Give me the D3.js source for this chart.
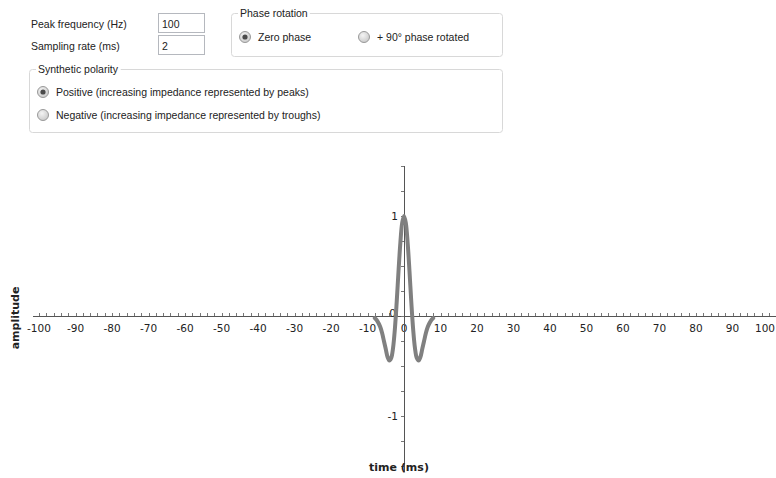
<!DOCTYPE html>
<html><head><meta charset="utf-8">
<script src="https://cdn.jsdelivr.net/npm/d3@7"></script>
<style>body{margin:0;background:#fff}svg{display:block}</style>
</head><body>
<svg id="c" width="776" height="478"></svg>
<script>
// ---- data ----
const timeMs = [-8,-7.5,-7,-6.5,-6,-5.5,-5,-4.5,-4,-3.5,-3,-2.5,-2,-1.5,-1,-0.5,0,0.5,1,1.5,2,2.5,3,3.5,4,4.5,5,5.5,6,6.5,7,7.5,8];
const amplitude = [-0.02,-0.04,-0.07,-0.11,-0.17,-0.25,-0.33,-0.41,-0.445,-0.42,-0.32,-0.13,0.14,0.45,0.73,0.93,1.0,0.93,0.73,0.45,0.14,-0.13,-0.32,-0.42,-0.445,-0.41,-0.33,-0.25,-0.17,-0.11,-0.07,-0.04,-0.02];
const xTickLabels = [-100,-90,-80,-70,-60,-50,-40,-30,-20,-10,0,10,20,30,40,50,60,70,80,90,100];
const yTickLabels = [-1,1];
const formLabels = ["Peak frequency (Hz)","Sampling rate (ms)"];
const formValues = ["100","2"];
const phaseOptions = ["Zero phase","+ 90\u00b0 phase rotated"];
const polarityOptions = ["Positive (increasing impedance represented by peaks)","Negative (increasing impedance represented by troughs)"];

const svg = d3.select("#c");
const uiFont = "'Liberation Sans', Arial, sans-serif";

const defs = svg.append("defs");
const rg = defs.append("radialGradient").attr("id", "rg").attr("cx", "40%").attr("cy", "35%").attr("r", "70%");
rg.append("stop").attr("offset", "0%").attr("stop-color", "#f4f4f4");
rg.append("stop").attr("offset", "100%").attr("stop-color", "#c8c8c8");

// ---- form-like controls ----
const form = svg.append("g").attr("font-family", uiFont).attr("font-size", 10.5).attr("fill", "#222");
formLabels.forEach((t, i) => {
  const y = 24 + i * 22;
  form.append("text").attr("x", 31).attr("y", y + 4).text(t);
  form.append("rect").attr("x", 158.5).attr("y", y - 10.5).attr("width", 46).attr("height", 19)
    .attr("fill", "#fff").attr("stroke", "#b5b8be");
  form.append("text").attr("x", 162).attr("y", y + 4).text(formValues[i]);
});

function groupBox(x, y, w, h, title) {
  form.append("rect").attr("x", x + 0.5).attr("y", y + 0.5).attr("width", w).attr("height", h)
    .attr("rx", 3).attr("fill", "none").attr("stroke", "#d8d8d8");
  const bg = form.append("rect").attr("y", y - 2).attr("height", 5).attr("fill", "#fff");
  const t = form.append("text").attr("x", x + 9).attr("y", y + 4).text(title);
  const bb = t.node().getBBox();
  bg.attr("x", bb.x - 2).attr("width", bb.width + 4);
}
function radio(cx, cy, label, checked) {
  const gr = form.append("g");
  gr.append("circle").attr("cx", cx).attr("cy", cy).attr("r", 5.5)
    .attr("fill", "url(#rg)").attr("stroke", "#9a9a9a");
  if (checked) gr.append("circle").attr("cx", cx).attr("cy", cy).attr("r", 2.6).attr("fill", "#4a4a4a");
  gr.append("text").attr("x", cx + 13).attr("y", cy + 4).text(label);
}

groupBox(231, 13, 271, 43, "Phase rotation");
radio(245, 37, phaseOptions[0], true);
radio(364, 37, phaseOptions[1], false);
groupBox(29, 69, 473, 63, "Synthetic polarity");
polarityOptions.forEach((t, i) => radio(43, 92 + i * 23, t, i === 0));

// ---- chart ----
const x = d3.scaleLinear().domain([-100, 100]).range([39, 769]);
const y = d3.scaleLinear().domain([-1.5, 1.5]).range([466, 166]);
const chartFont = "'DejaVu Sans', Verdana, sans-serif";
const chart = svg.append("g").attr("font-family", chartFont).attr("font-size", 10.5).attr("fill", "#222");

// x axis line + ticks
chart.append("line").attr("x1", 33).attr("x2", 776).attr("y1", y(0) + 0.5).attr("y2", y(0) + 0.5).attr("stroke", "#555");
const minorX = d3.range(-100, 101, 2);
chart.selectAll(".xt").data(minorX).join("line")
  .attr("x1", d => Math.round(x(d)) + 0.5).attr("x2", d => Math.round(x(d)) + 0.5)
  .attr("y1", y(0) - 3).attr("y2", y(0)).attr("stroke", "#777");
chart.selectAll(".xl").data(xTickLabels).join("text")
  .attr("x", d => d === 100 ? 775 : x(d)).attr("y", y(0) + 16)
  .attr("text-anchor", d => d === 100 ? "end" : "middle").text(d => d);

// y axis line + ticks
chart.append("line").attr("x1", x(0) + 0.5).attr("x2", x(0) + 0.5).attr("y1", 166).attr("y2", 472).attr("stroke", "#555");
const minorY = d3.range(-1.5, 1.51, 0.25);
chart.selectAll(".yt").data(minorY).join("line")
  .attr("x1", x(0) - 3).attr("x2", x(0))
  .attr("y1", d => Math.round(y(d)) + 0.5).attr("y2", d => Math.round(y(d)) + 0.5).attr("stroke", "#777");
chart.selectAll(".yl").data(yTickLabels).join("text")
  .attr("x", x(0) - 6).attr("y", d => y(d) + 4).attr("text-anchor", "end").text(d => d);
chart.append("text").attr("x", x(0) - 8).attr("y", y(0) + 1).attr("text-anchor", "end").text("0");

// axis titles
chart.append("text").attr("x", 399).attr("y", 471).attr("text-anchor", "middle")
  .attr("font-weight", "bold").attr("font-size", 11).text("time (ms)");
chart.append("text").attr("transform", `translate(19,${y(0) + 2}) rotate(-90)`).attr("text-anchor", "middle")
  .attr("font-weight", "bold").attr("font-size", 11).text("amplitude");

// wavelet curve
const pts = timeMs.map((t, i) => [t, amplitude[i]]);
chart.append("path").datum(pts)
  .attr("d", d3.line().x(d => x(d[0])).y(d => y(d[1])).curve(d3.curveCatmullRom))
  .attr("fill", "none").attr("stroke", "#808080").attr("stroke-width", 4)
  .attr("stroke-linejoin", "round").attr("stroke-linecap", "round");
</script>
</body></html>
